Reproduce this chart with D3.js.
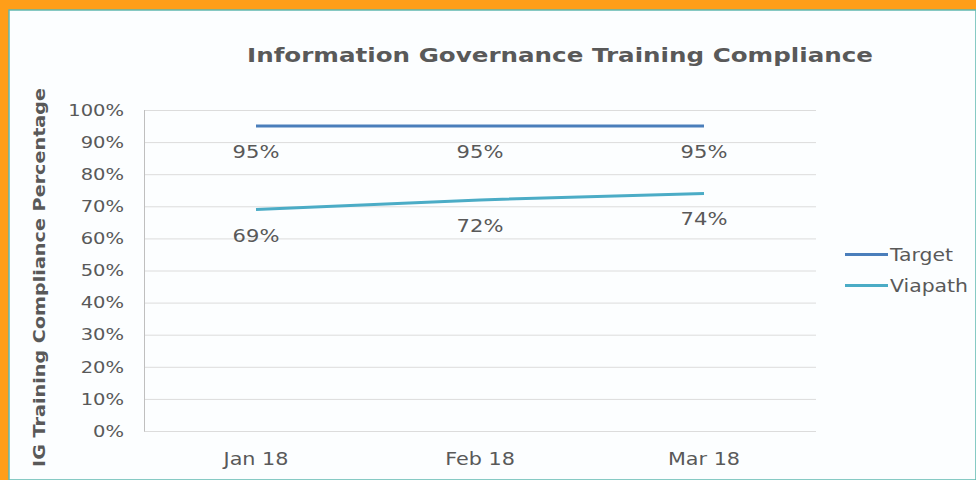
<script src='https://d3js.org/d3.v7.min.js'></script>
<style>body{margin:0;background:#fff;} svg{display:block;font-family:'DejaVu Sans',Verdana,sans-serif;}</style>
<svg id='chart'/>
<script>
var months=['Jan 18','Feb 18','Mar 18'],
    target=[95,95,95],
    viapath=[69,72,74],
    yTicks=[0,10,20,30,40,50,60,70,80,90,100],
    seriesNames=['Target','Viapath'],
    seriesColors=['#4a7ebb','#4bacc6'];
var W=976,H=480,
    plot={left:144,right:816,top:110,bottom:431};
var svg=d3.select('#chart').attr('width',W).attr('height',H);
// text in the picture is a little wider than DejaVu, so stretch it sideways
function wide(sel,sx,fx,fy){
  return sel.attr('transform',(d,i)=>'translate('+fx(d,i)+','+fy(d,i)+') scale('+sx+',1)');
}
// frame
svg.append('rect').attr('width',W).attr('height',H).attr('fill','#ff9e18');
svg.append('rect').attr('x',9).attr('y',10).attr('width',W-9).attr('height',H-10)
   .attr('fill','#fcfeff').attr('stroke','#5fb8b0').attr('stroke-width',1.5);
var x=d3.scalePoint().domain(months).range([plot.left,plot.right]).padding(0.5),
    y=d3.scaleLinear().domain([0,100]).range([plot.bottom,plot.top]);
// grid
svg.append('g').selectAll('line').data(yTicks).join('line')
   .attr('x1',plot.left).attr('x2',plot.right)
   .attr('y1',d=>y(d)+0.5).attr('y2',d=>y(d)+0.5)
   .attr('stroke','#dcdcdc').attr('stroke-width',1);
svg.append('line').attr('x1',plot.left+0.5).attr('x2',plot.left+0.5)
   .attr('y1',plot.top).attr('y2',plot.bottom+0.5).attr('stroke','#bfbfbf');
// y ticks
wide(svg.append('g').selectAll('text').data(yTicks).join('text')
   .attr('dy','0.36em').attr('text-anchor','end')
   .attr('font-size',16).attr('fill','#595959').text(d=>d+'%'),1.22,()=>124,d=>y(d));
// x ticks
wide(svg.append('g').selectAll('text').data(months).join('text')
   .attr('text-anchor','middle')
   .attr('font-size',17).attr('fill','#595959').text(d=>d),1.22,d=>x(d),()=>465);
// titles
svg.append('text').attr('x',560).attr('y',62).attr('text-anchor','middle')
   .attr('font-size',20).attr('font-weight','bold').attr('fill','#595959')
   .attr('textLength',626).attr('lengthAdjust','spacingAndGlyphs')
   .text('Information Governance Training Compliance');
svg.append('text').attr('transform','translate(45,277.5) rotate(-90)').attr('text-anchor','middle')
   .attr('font-size',16.5).attr('font-weight','bold').attr('fill','#595959')
   .attr('textLength',379).attr('lengthAdjust','spacingAndGlyphs')
   .text('IG Training Compliance Percentage');
// lines + labels
var line=d3.line().x((d,i)=>x(months[i])).y(d=>y(d));
[target,viapath].forEach(function(s,k){
  svg.append('path').datum(s).attr('d',line).attr('fill','none')
     .attr('stroke',seriesColors[k]).attr('stroke-width',3);
  wide(svg.append('g').selectAll('text').data(s).join('text')
     .attr('text-anchor','middle')
     .attr('font-size',18).attr('fill','#595959').text(d=>d+'%'),
     1.17,(d,i)=>x(months[i]),d=>y(d)+32);
});
// legend
var lg=svg.append('g').selectAll('g').data(seriesNames).join('g')
   .attr('transform',(d,i)=>'translate(845,'+(254.5+i*31)+')');
lg.append('line').attr('x1',0).attr('x2',43).attr('stroke',(d,i)=>seriesColors[i]).attr('stroke-width',3);
wide(lg.append('text').attr('font-size',17).attr('fill','#595959').text(d=>d),1.2,()=>45,()=>6);
</script>
